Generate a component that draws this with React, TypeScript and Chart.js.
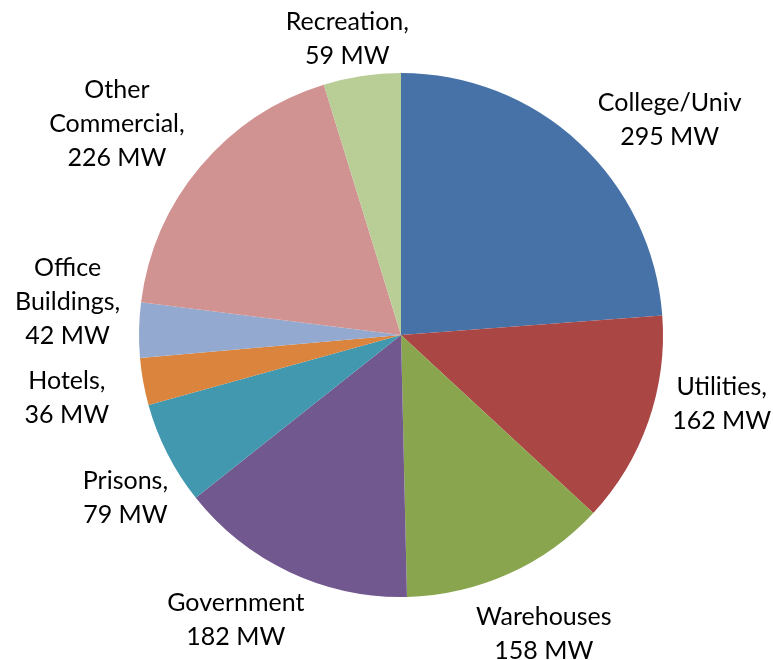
import React, { useEffect, useRef } from "react";
import { Chart, registerables } from "chart.js";

Chart.register(...registerables);

const categories: string[][] = [
  ["College/Univ"],
  ["Utilities,"],
  ["Warehouses"],
  ["Government"],
  ["Prisons,"],
  ["Hotels,"],
  ["Office", "Buildings,"],
  ["Other", "Commercial,"],
  ["Recreation,"],
];
const valuesMW: number[] = [295, 162, 158, 182, 79, 36, 42, 226, 59];
const colors: string[] = [
  "#4672A8",
  "#AA4644",
  "#89A54E",
  "#71588F",
  "#4198AF",
  "#DB843D",
  "#93A9CF",
  "#D19392",
  "#B9CD96",
];

// label layout relative to each slice: angular shift (deg) from slice middle, and gap beyond the pie edge (px)
const labelAngleShift: number[] = [8.5, -7.1, -1.3, 5.0, -3.6, -0.4, 4.5, -3.4, -1.7];
const labelGap: number[] = [82, 66, 69, 67, 58, 78, 73, 92, 39];

const FONT = "25px Lato, 'Open Sans', sans-serif";
const LINE_H = 34;

const outsideLabels = {
  id: "outsideLabels",
  afterDatasetsDraw(chart: any) {
    const ctx = chart.ctx;
    const meta = chart.getDatasetMeta(0);
    ctx.save();
    ctx.font = FONT;
    ctx.fillStyle = "#000";
    ctx.textAlign = "center";
    ctx.textBaseline = "middle";
    meta.data.forEach((arc: any, i: number) => {
      const { x, y, startAngle, endAngle, outerRadius } = arc.getProps(
        ["x", "y", "startAngle", "endAngle", "outerRadius"],
        true
      );
      const mid = (startAngle + endAngle) / 2 + (labelAngleShift[i] * Math.PI) / 180;
      const dist = outerRadius + labelGap[i];
      const cx = x + Math.cos(mid) * dist;
      const cy = y + Math.sin(mid) * dist;
      const lines = [...categories[i], `${valuesMW[i]} MW`];
      const hh = (lines.length * LINE_H) / 2;
      lines.forEach((l, j) => {
        ctx.fillText(l, cx, cy - hh + LINE_H / 2 + j * LINE_H);
      });
    });
    ctx.restore();
  },
};

export default function App() {
  const ref = useRef<HTMLCanvasElement | null>(null);
  useEffect(() => {
    if (!ref.current) return;
    const chart = new Chart(ref.current, {
      type: "pie",
      data: {
        labels: categories.map((c) => c.join(" ")),
        datasets: [
          {
            data: valuesMW,
            backgroundColor: colors,
            borderWidth: 0,
          },
        ],
      },
      options: {
        animation: false,
        responsive: false,
        maintainAspectRatio: false,
        layout: { padding: { top: 73, bottom: 63, left: 139, right: 110 } },
        plugins: {
          legend: { display: false },
          tooltip: { enabled: false },
        },
      },
      plugins: [outsideLabels],
    });
    return () => chart.destroy();
  }, []);
  return (
    <div style={{ position: "fixed", left: 0, top: 0, width: 773, height: 660, background: "#fff" }}>
      <canvas ref={ref} width={773} height={660} style={{ width: 773, height: 660 }} />
    </div>
  );
}
